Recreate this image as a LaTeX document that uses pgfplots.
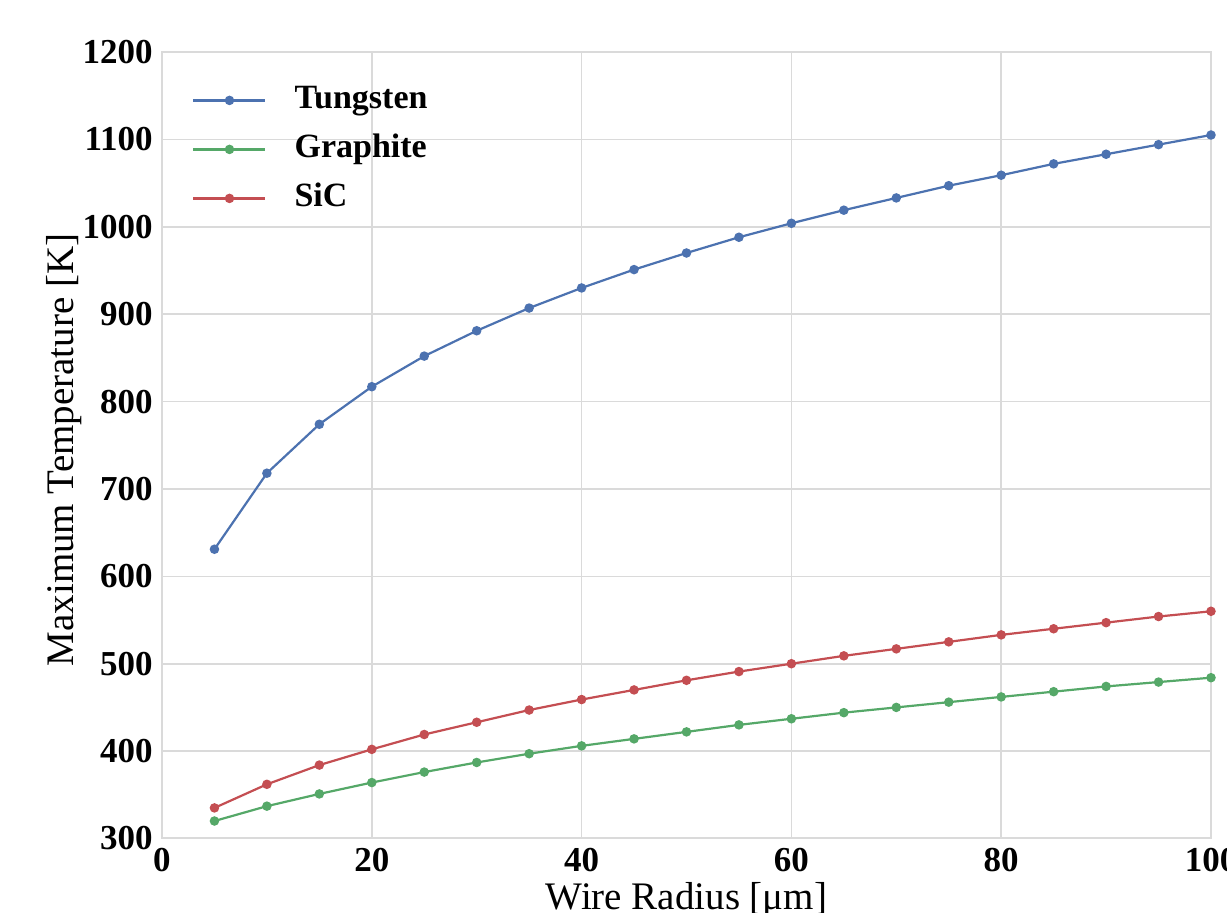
\documentclass[border=0pt]{standalone}
\usepackage{fontspec}
\setmainfont{Liberation Serif}
\usepackage{pgfplots}
\pgfplotsset{compat=1.18}
\definecolor{sbblue}{HTML}{4C72B0}
\definecolor{sbgreen}{HTML}{55A868}
\definecolor{sbred}{HTML}{C44E52}
\definecolor{gridgray}{HTML}{DADADA}
\begin{document}
\begin{tikzpicture}
\useasboundingbox (-81pt,-37.25pt) rectangle (532.5pt,419.25pt);
\clip (-81pt,-37.25pt) rectangle (532.5pt,419.25pt);
\begin{axis}[
  at={(0,0)}, anchor=south west,
  scale only axis, width=524.5pt, height=393.25pt,
  xmin=0, xmax=100, ymin=300, ymax=1200,
  xtick={0,20,...,100}, ytick={300,400,...,1200},
  grid=major, major grid style={draw=gridgray, line width=0.8pt},
  axis line style={draw=gridgray, line width=1pt},
  major tick length=0pt,
  tick label style={font=\fontsize{17.5}{20}\selectfont\bfseries},
  /pgf/number format/assume math mode=true,
  /pgf/number format/1000 sep={},
  yticklabel style={inner sep=0pt, xshift=-4.5pt},
  xticklabel style={inner sep=0pt, yshift=-4.75pt},
  xlabel={Wire Radius [μm]},
  ylabel={Maximum Temperature [K]},
  every axis x label/.style={at={(axis description cs:0.5,-0.0909)}, anchor=base, font=\fontsize{19.5}{22}\selectfont},
  every axis y label/.style={at={(axis description cs:-0.0848,0.494)}, anchor=base, rotate=90, font=\fontsize{19.5}{22}\selectfont},
  legend cell align=left,
  legend style={draw=none, fill=none, at={(axis description cs:0.0286,0.9593)}, anchor=north west,
    inner sep=0pt, column sep=14pt, row sep=8.5pt,
    font=\fontsize{17}{20}\selectfont\bfseries,
    nodes={inner sep=0pt, text height=12pt, text depth=4pt}},
  legend image code/.code={\draw[mark repeat=2,mark phase=2,#1] plot coordinates {(0pt,0pt) (18pt,0pt) (36pt,0pt)};},
  every axis plot/.append style={line width=1.1pt, mark=*, mark size=1.8pt},
]
\addplot[color=sbblue, mark options={fill=sbblue}] coordinates {
(5,631) (10,718) (15,774) (20,817) (25,852) (30,881) (35,907) (40,930) (45,951) (50,970)
(55,988) (60,1004) (65,1019) (70,1033) (75,1047) (80,1059) (85,1072) (90,1083) (95,1094) (100,1105)};
\addlegendentry{Tungsten}
\addplot[color=sbgreen, mark options={fill=sbgreen}] coordinates {
(5,320) (10,337) (15,351) (20,364) (25,376) (30,387) (35,397) (40,406) (45,414) (50,422)
(55,430) (60,437) (65,444) (70,450) (75,456) (80,462) (85,468) (90,474) (95,479) (100,484)};
\addlegendentry{Graphite}
\addplot[color=sbred, mark options={fill=sbred}] coordinates {
(5,335) (10,362) (15,384) (20,402) (25,419) (30,433) (35,447) (40,459) (45,470) (50,481)
(55,491) (60,500) (65,509) (70,517) (75,525) (80,533) (85,540) (90,547) (95,554) (100,560)};
\addlegendentry{SiC}
\end{axis}
\end{tikzpicture}
\end{document}
